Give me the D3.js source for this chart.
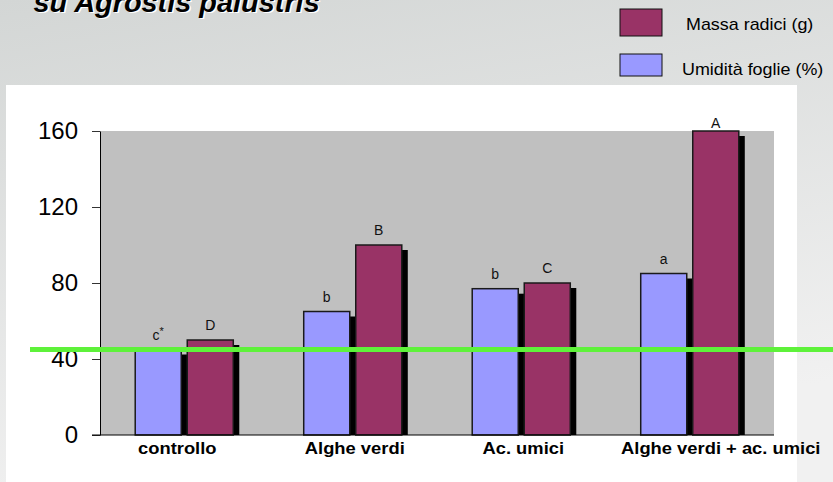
<!DOCTYPE html>
<html>
<head>
<meta charset="utf-8">
<script src="https://cdn.jsdelivr.net/npm/d3@7"></script>
<style>
  html, body { margin: 0; padding: 0; }
  body { width: 833px; height: 482px; overflow: hidden; font-family: 'Liberation Sans', Arial, sans-serif; }
</style>
</head>
<body>
<div id="chart"></div>
<script>
// treatments on the x axis
const categories = ["controllo", "Alghe verdi", "Ac. umici", "Alghe verdi + ac. umici"];
const seriesNames = ["Umidità foglie (%)", "Massa radici (g)"];
const umidita = [45, 65, 77, 85];
const massa = [50, 100, 80, 160];
const umiditaLetters = ["c", "b", "b", "a"];
const massaLetters = ["D", "B", "C", "A"];
const yTicks = [0, 40, 80, 120, 160];
const thresholdValue = 45;
const titleText = "su Agrostis palustris";

const width = 833, height = 482;
const plot = { left: 100, right: 774, top: 131, bottom: 435 };
const colors = { "Umidità foglie (%)": "#9999ff", "Massa radici (g)": "#993366" };

const svg = d3.select("#chart").append("svg")
    .attr("width", width)
    .attr("height", height)
    .style("font-family", "'Liberation Sans', Arial, sans-serif");

// slide background
const defs = svg.append("defs");
const grad = defs.append("linearGradient")
    .attr("id", "bg")
    .attr("x1", 0).attr("y1", 0).attr("x2", 0.3).attr("y2", 1);
grad.append("stop").attr("offset", "0%").attr("stop-color", "#d3d6d5");
grad.append("stop").attr("offset", "100%").attr("stop-color", "#f1f1f1");

svg.append("rect")
    .attr("width", width).attr("height", height)
    .attr("fill", "url(#bg)");

// title (first line is cut off above the frame)
svg.append("text")
    .attr("transform", "translate(35,13) scale(1.07,1)")
    .attr("fill", "#ffffff")
    .style("font-size", "27px").style("font-weight", "bold").style("font-style", "italic")
    .text(titleText);
svg.append("text")
    .attr("transform", "translate(33.5,11.5) scale(1.07,1)")
    .attr("fill", "#000")
    .style("font-size", "27px").style("font-weight", "bold").style("font-style", "italic")
    .text(titleText);

// white chart panel
svg.append("rect")
    .attr("x", 6).attr("y", 85)
    .attr("width", 791).attr("height", 400)
    .attr("fill", "#ffffff");

const y = d3.scaleLinear().domain([0, 160]).range([plot.bottom, plot.top]);

const x0 = d3.scaleBand()
    .domain(categories)
    .range([plot.left, plot.right])
    .paddingInner(0.418)
    .paddingOuter(0.209);

const x1 = d3.scaleBand()
    .domain(seriesNames)
    .range([0, x0.bandwidth()])
    .paddingInner(0.1154);

svg.append("rect")
    .attr("x", plot.left).attr("y", plot.top)
    .attr("width", plot.right - plot.left).attr("height", plot.bottom - plot.top)
    .attr("fill", "#c0c0c0");

const rows = [];
categories.forEach((c, i) => {
    rows.push({ cat: c, series: seriesNames[0], value: umidita[i], letter: umiditaLetters[i], star: i === 0 });
    rows.push({ cat: c, series: seriesNames[1], value: massa[i], letter: massaLetters[i], star: false });
});

const bars = svg.append("g");

// drop shadows
bars.selectAll("rect.shadow")
    .data(rows)
    .join("rect")
    .attr("class", "shadow")
    .attr("x", d => x0(d.cat) + x1(d.series) + 6)
    .attr("y", d => y(d.value) + 5)
    .attr("width", x1.bandwidth())
    .attr("height", d => y(0) - y(d.value) - 5)
    .attr("fill", "#000");

bars.selectAll("rect.bar")
    .data(rows)
    .join("rect")
    .attr("class", "bar")
    .attr("x", d => x0(d.cat) + x1(d.series))
    .attr("y", d => y(d.value))
    .attr("width", x1.bandwidth())
    .attr("height", d => y(0) - y(d.value))
    .attr("fill", d => colors[d.series])
    .attr("stroke", "#1a1a1a")
    .attr("stroke-width", 1.5);

// significance letters
const letters = svg.append("g")
    .selectAll("text")
    .data(rows)
    .join("text")
    .attr("x", d => x0(d.cat) + x1(d.series) + x1.bandwidth() / 2)
    .attr("y", d => Math.max(y(d.value) - 10, plot.top - 3))
    .attr("text-anchor", "middle")
    .style("font-size", "14px")
    .attr("fill", "#111")
    .text(d => d.letter);
letters.filter(d => d.star)
    .append("tspan")
    .attr("dy", -5)
    .style("font-size", "11px")
    .text("*");

// axes
const yAxis = svg.append("g")
    .attr("transform", `translate(${plot.left},0)`)
    .call(d3.axisLeft(y).tickValues(yTicks).tickSize(8).tickPadding(14).tickSizeOuter(0));
yAxis.select(".domain").attr("stroke", "#000");
yAxis.selectAll(".tick line").attr("stroke", "#333");
yAxis.selectAll(".tick text")
    .attr("fill", "#000")
    .style("font-size", "24px")
    .style("font-family", "'Liberation Sans', Arial, sans-serif");

svg.append("line")
    .attr("x1", plot.left - 8).attr("x2", plot.right)
    .attr("y1", y(0)).attr("y2", y(0))
    .attr("stroke", "#000");

// category labels (as placed on the slide)
const labelDx = [-7, 2, 2, 31];
svg.append("g")
    .selectAll("text")
    .data(categories)
    .join("text")
    .attr("transform", (d, i) => `translate(${x0(d) + x0.bandwidth() / 2 + labelDx[i]},454) scale(1.08,1)`)
    .attr("text-anchor", "middle")
    .style("font-size", "17px")
    .style("font-weight", "bold")
    .attr("fill", "#000")
    .text(d => d);

// green reference line
svg.append("line")
    .attr("x1", 30).attr("x2", width)
    .attr("y1", y(thresholdValue)).attr("y2", y(thresholdValue))
    .attr("stroke", "#5ef23a")
    .attr("stroke-width", 5);

// legend
const legendItems = [
    { name: seriesNames[1], y: 9, h: 27, ty: 30 },
    { name: seriesNames[0], y: 54, h: 22, ty: 75 }
];
const legend = svg.append("g");
legend.selectAll("rect")
    .data(legendItems)
    .join("rect")
    .attr("x", 620).attr("y", d => d.y)
    .attr("width", 42).attr("height", d => d.h)
    .attr("fill", d => colors[d.name])
    .attr("stroke", "#111").attr("stroke-width", 1);
legend.selectAll("text")
    .data(legendItems)
    .join("text")
    .attr("transform", (d, i) => `translate(${i === 0 ? 686 : 682},${d.ty}) scale(1.12,1)`)
    .style("font-size", "16px")
    .attr("fill", "#000")
    .text(d => d.name);
</script>
</body>
</html>
